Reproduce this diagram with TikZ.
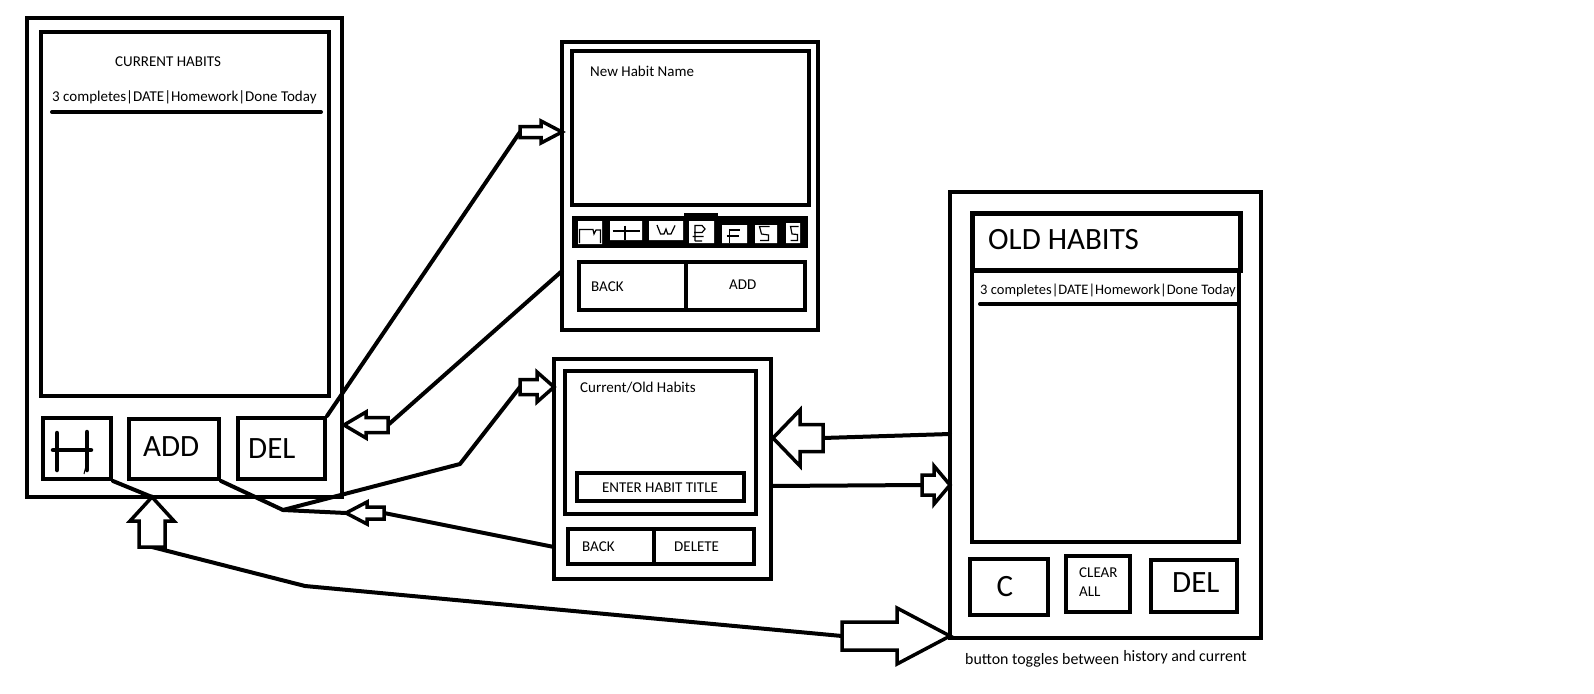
\documentclass[tikz,border=0pt]{standalone}
\usepackage{fontspec}
\setmainfont{Carlito}
\usetikzlibrary{fit,backgrounds,calc}

\tikzset{
  box/.style={draw, line width=4pt, inner sep=0pt},
  conn/.style={line width=4pt, line cap=round, line join=round},
  small/.style={font=\fontsize{15}{18}\selectfont, inner sep=0pt},
  big/.style={font=\fontsize{31}{36}\selectfont, inner sep=0pt},
  glyph/.style={line width=1.2pt, line join=miter},
  rule/.style={line width=4pt, line cap=round},
  pics/blockarrow/.style args={#1/#2/#3/#4}{code={
    \draw[line width=3.5pt, line join=miter, fill=white]
      (0,0) -- (-#2,#4) -- (-#2,#3) -- (-#1,#3) -- (-#1,-#3) -- (-#2,-#3) -- (-#2,-#4) -- cycle;
    \coordinate (-tip) at (0,0);
    \coordinate (-tail) at (-#1,0);
  }},
}

\begin{document}
\begin{tikzpicture}[x=1pt, y=-1pt]
\useasboundingbox (0,0) rectangle (1594,693);

% ---------- current habits screen ----------
\node[box, fit={(27,18) (342,497)}] (p1) {};
\node[box, fit={(41,32) (329,396)}] (s1) {};
\node[small, anchor=base west] (t1) at (115,66.5) {CURRENT HABITS};
\node[small, anchor=base west] (r1) at (52,101) {3 completes|DATE|Homework|Done Today};
\draw[rule] (52,112) -- (321,112);
\node[box, fit={(43,418) (111,479)}] (h1) {};
\node[box, fit={(129,419) (219,479)}] (add1) {};
\node[box, fit={(238,418) (325,479)}] (del1) {};
\node[big, anchor=base west] (add1t) at (143,456) {ADD};
\node[big, anchor=base west] (del1t) at (248,458) {DEL};
% hand drawn H
\draw[line width=4.5pt, line cap=round] (57,433) -- (57,470) (87,432) -- (87,470) (53,450) -- (91,450);
\draw[line width=1pt] (87,462) -- (84,474);

% ---------- new habit screen ----------
\node[box, fit={(562,42) (818,330)}] (p2) {};
\node[box, fit={(572,51) (809,205)}] (s2) {};
\node[small, anchor=base west] (t2) at (590,76.5) {New Habit Name};
% weekday strip
\fill (572,216) rectangle (808,248);
\fill (684,213) rectangle (718,216);
\fill[white] (578,221) rectangle (602,244)
             (610,221) rectangle (642,240)
             (649,221) rectangle (683,240)
             (689,221) rectangle (714,243)
             (722,225) rectangle (747,243)
             (755,225) rectangle (777,243)
             (786,223) rectangle (800,243);
\draw[glyph] (579.5,243) -- (579.5,229.5) -- (593,229.5) -- (594,234) -- (596,230) -- (600.5,230) -- (600.5,243);
\draw[glyph] (612.5,231) -- (639.5,231) (625,225.5) -- (625,239.5);
\draw[glyph] (657,225) -- (660.5,234) -- (664,234) -- (666,229) -- (667.7,234) -- (671,234) -- (675,225.5);
\draw[glyph] (695,241) -- (695,225.5) -- (702,225.5) -- (705,229) -- (702,232.5) -- (694,232.5)
             (692.5,236.5) -- (703.5,236.5) (695,241) -- (702,241);
\draw[glyph] (729.5,243) -- (729.5,230) -- (739.5,230) (726.5,236) -- (738.5,236);
\draw[glyph] (769.5,226.5) -- (759.5,226.5) -- (761.5,234) -- (768.5,235) -- (768.5,240.5) -- (760,240.5);
\draw[glyph] (798.5,226.5) -- (790.5,226.5) -- (792,234) -- (797.5,234.5) -- (797.5,240.5) -- (790.5,240.5);
\node[box, fit={(579,262) (686,310)}] (back2) {};
\node[box, fit={(686,262) (805,310)}] (add2) {};
\node[small, anchor=base west] (back2t) at (591,291) {BACK};
\node[small, anchor=base west] (add2t) at (729,289) {ADD};

% ---------- delete habit screen ----------
\node[box, fit={(554,359) (771,579)}] (p3) {};
\node[box, fit={(565,371) (756,514)}] (s3) {};
\node[small, anchor=base west] (t3) at (580,392.5) {Current/Old Habits};
\node[box, fit={(577,473) (744,501)}] (title3) {};
\node[small, anchor=base] (title3t) at (660,492.5) {ENTER HABIT TITLE};
\node[box, fit={(568,529) (654,564)}] (back3) {};
\node[box, fit={(654,529) (754,564)}] (del3) {};
\node[small, anchor=base west] (back3t) at (582,551.5) {BACK};
\node[small, anchor=base west] (del3t) at (674,551.5) {DELETE};

% ---------- old habits screen ----------
\node[box, fit={(950,192) (1261,638)}] (p4) {};
\node[box, line width=5pt, fit={(972,213) (1240,270)}] (t4) {};
\node[big, anchor=base west] (t4t) at (988,249) {OLD HABITS};
\node[box, fit={(972,270) (1239,542)}] (s4) {};
\node[small, font=\fontsize{14.5}{17}\selectfont, anchor=base west] (r4) at (980,294) {3 completes|DATE|Homework|Done Today};
\draw[rule] (980,304) -- (1237,304);
\node[box, fit={(970,559) (1048,615)}] (c4) {};
\node[box, fit={(1066,556) (1130,612)}] (clr4) {};
\node[box, fit={(1151,560) (1237,612)}] (del4) {};
\node[big, anchor=base west] (c4t) at (996.5,596.5) {C};
\node[small, anchor=base west] (clr4a) at (1079,577) {CLEAR};
\node[small, anchor=base west] (clr4b) at (1079,596) {ALL};
\node[big, anchor=base west] (del4t) at (1172,592.5) {DEL};
\node[small, font=\fontsize{15.9}{19}\selectfont, anchor=base west] (note1) at (965,664.3) {button toggles between};
\node[small, font=\fontsize{15.9}{19}\selectfont, anchor=base west] (note2) at ($(note1.base east)+(3.8,-2.6)$) {history and current};

% ---------- block arrows ----------
\pic (a1) at (562,132) {blockarrow={42/21/5.5/11}};
\pic[rotate=180] (a2) at (344,425) {blockarrow={44/22/7.5/13}};
\pic (a3) at (554,387) {blockarrow={34/17/7.5/15}};
\pic[rotate=180] (a4) at (346,513) {blockarrow={38/21/6/11}};
\pic[rotate=90] (a5) at (152,497) {blockarrow={50/24/13/22}};
\pic (a6) at (950,636) {blockarrow={108/53/14/28}};
\pic[rotate=180] (a7) at (773,438) {blockarrow={50/27/13.5/28}};
\pic (a8) at (950,485) {blockarrow={28/16/10/19}};

% junctions and ports
\coordinate (J) at (283,510);
\coordinate (K1) at (460,464);
\coordinate (M) at (305,586);
\coordinate (p2port) at (562,271);
\coordinate (p3portL) at (554,547);
\coordinate (p3portR) at (771,486);
\coordinate (p4port) at (950,434);

% ---------- connectors ----------
\begin{pgfonlayer}{background}
\draw[conn] (del1.north east) -- (a1-tail);
\draw[conn] (p2port) -- (a2-tail);
\draw[conn] (add1.south east) -- (J) -- (K1) -- (a3-tail);
\draw[conn] (p3portL) -- (a4-tail);
\draw[conn] (a4-tip) -- (J);
\draw[conn] (h1.south east) -- (a5-tip);
\draw[conn] (a5-tail) -- (M) -- (a6-tail);
\draw[conn] (p4port) -- (a7-tail);
\draw[conn] (p3portR) -- (a8-tail);
\end{pgfonlayer}
\end{tikzpicture}
\end{document}
